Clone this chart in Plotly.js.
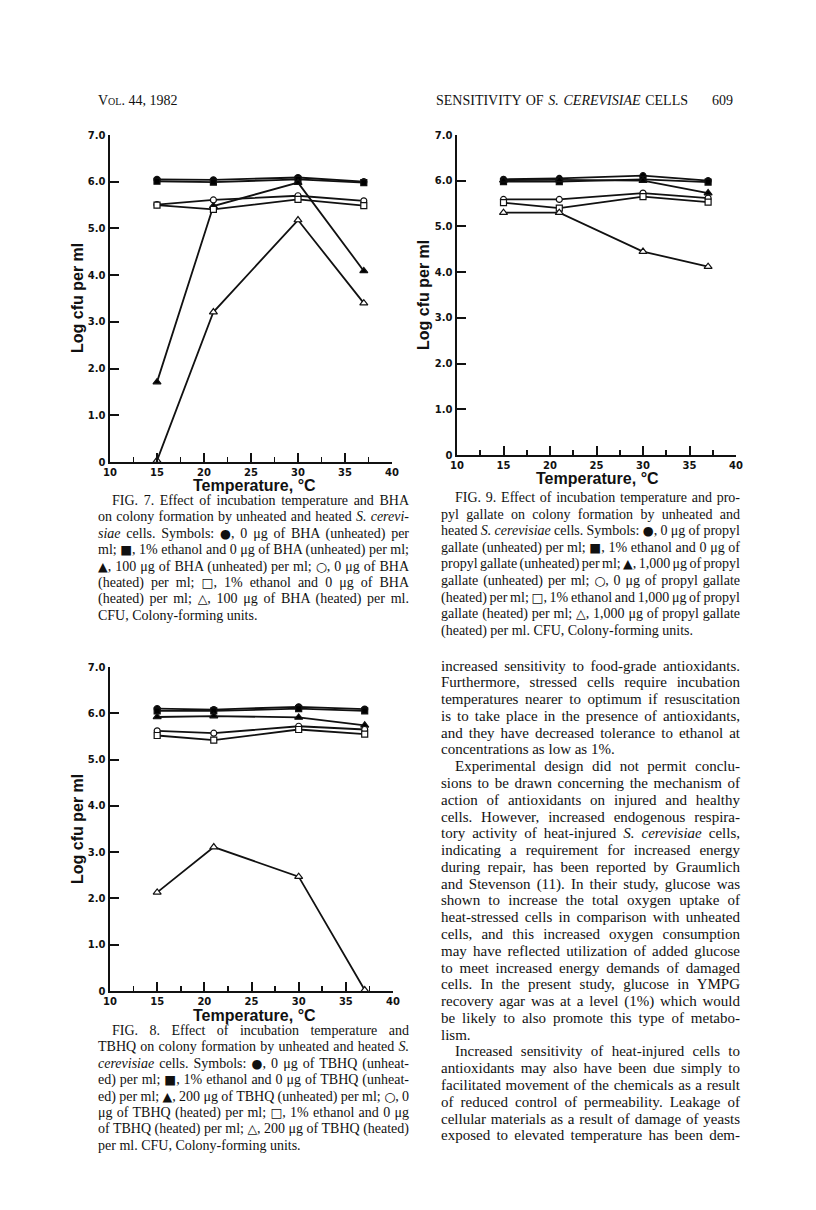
<!DOCTYPE html>
<html>
<head>
<meta charset="utf-8">
<script src="https://cdn.plot.ly/plotly-3.0.1.min.js"></script>
<style>
  html, body { margin:0; padding:0; background:#fff; }
  #page { position:relative; width:816px; height:1210px; background:#fff; overflow:hidden; }
  #plot { position:absolute; left:0; top:0; width:816px; height:1210px; }
  .ln { position:absolute; white-space:nowrap; font-family:'Liberation Serif','Times New Roman',serif; color:#111; }
  .sym { font-family:'DejaVu Sans'; font-size:0.9em; }
</style>
</head>
<body>
<div id="page"><div id="plot"></div></div>
<script>
// ---------------- DATA ----------------
const temps = [15, 21, 30, 37];
const tempTicks = [10, 15, 20, 25, 30, 35, 40];
const logTicks = [0, 1, 2, 3, 4, 5, 6, 7];
const logTickText = ["0", "1.0", "2.0", "3.0", "4.0", "5.0", "6.0", "7.0"];

// FIG. 7 (BHA)
const f7Unheated       = [6.05, 6.04, 6.09, 6.00];
const f7Ethanol        = [6.01, 5.99, 6.05, 5.98];
const f7Bha100         = [1.71, 5.48, 5.98, 4.09];
const f7Heated         = [5.51, 5.61, 5.70, 5.59];
const f7HeatedEthanol  = [5.50, 5.41, 5.62, 5.49];
const f7HeatedBha100   = [0.03, 3.21, 5.18, 3.40];

// FIG. 9 (propyl gallate)
const f9Unheated       = [6.03, 6.05, 6.11, 6.00];
const f9Ethanol        = [5.98, 5.98, 6.03, 5.97];
const f9Pg1000         = [6.01, 6.02, 6.00, 5.73];
const f9Heated         = [5.59, 5.59, 5.73, 5.62];
const f9HeatedEthanol  = [5.52, 5.40, 5.65, 5.53];
const f9HeatedPg1000   = [5.30, 5.30, 4.45, 4.12];

// FIG. 8 (TBHQ)
const f8Unheated       = [6.10, 6.08, 6.14, 6.09];
const f8Ethanol        = [6.05, 6.05, 6.10, 6.05];
const f8Tbhq200        = [5.92, 5.94, 5.91, 5.74];
const f8Heated         = [5.62, 5.57, 5.72, 5.65];
const f8HeatedEthanol  = [5.52, 5.42, 5.65, 5.55];
const f8HeatedTbhq200  = [2.13, 3.11, 2.47, 0.02];

const yTitle = "Log cfu per ml";
const xTitle = "Temperature, °C";

// ---------------- CHARTS ----------------
const W = 816, H = 1210;
const px = v => v / W;
const py = v => 1 - v / H;

const styles = [
  {symbol:'circle',      size:6, fill:'#000'},
  {symbol:'square',      size:6, fill:'#000'},
  {symbol:'triangle-up', size:7, fill:'#000'},
  {symbol:'circle',      size:6, fill:'#fff'},
  {symbol:'square',      size:6, fill:'#fff'},
  {symbol:'triangle-up', size:7, fill:'#fff'}
];

function series(ys, k, ax) {
  const s = styles[k];
  return {
    x: temps, y: ys, type:'scatter', mode:'lines+markers',
    xaxis:'x'+ax, yaxis:'y'+ax, cliponaxis:false, showlegend:false,
    line:{color:'#111', width:1.8},
    marker:{symbol:s.symbol, size:s.size, color:s.fill, line:{color:'#111', width:1.2}}
  };
}

const data = [];
[f7Unheated, f7Ethanol, f7Bha100, f7Heated, f7HeatedEthanol, f7HeatedBha100].forEach((ys,k)=>data.push(series(ys,k,'')));
[f9Unheated, f9Ethanol, f9Pg1000, f9Heated, f9HeatedEthanol, f9HeatedPg1000].forEach((ys,k)=>data.push(series(ys,k,'2')));
[f8Unheated, f8Ethanol, f8Tbhq200, f8Heated, f8HeatedEthanol, f8HeatedTbhq200].forEach((ys,k)=>data.push(series(ys,k,'3')));

const tickFont = {family:'DejaVu Sans', size:10, color:'#111', weight:'bold'};

function xAxis(x0, x1, anchor) {
  return {
    domain:[px(x0), px(x1)], range:[10, 40], anchor:anchor,
    tickvals: tempTicks, ticktext: tempTicks.map(String),
    ticks:'inside', ticklen:9, tickwidth:2, tickcolor:'#111',
    minor:{ticks:'inside', ticklen:5, tickwidth:1.6, tickcolor:'#111', dtick:2.5, tick0:10},
    showline:true, linecolor:'#111', linewidth:2,
    showgrid:false, zeroline:false, tickfont:tickFont, fixedrange:true
  };
}
function yAxis(y0, y1, anchor) {
  return {
    domain:[py(y0), py(y1)], range:[0, 7], anchor:anchor,
    tickvals: logTicks, ticktext: logTickText,
    ticks:'inside', ticklen:9, tickwidth:2, tickcolor:'#111',
    showline:true, linecolor:'#111', linewidth:2.5,
    showgrid:false, zeroline:false, tickfont:tickFont, fixedrange:true
  };
}

const titleFont = {family:'Liberation Sans', size:16, color:'#111', weight:'bold'};
function ann(text, x, y, angle) {
  return {text:text, x:px(x), y:py(y), xref:'paper', yref:'paper', showarrow:false,
          xanchor:'center', yanchor:'middle', textangle:angle||0, font:titleFont, borderpad:0};
}

const layout = {
  width:W, height:H, margin:{l:0,r:0,t:0,b:0},
  paper_bgcolor:'#fff', plot_bgcolor:'rgba(0,0,0,0)', showlegend:false,
  xaxis:  xAxis(110, 392, 'y'),  yaxis:  yAxis(462, 135, 'x'),
  xaxis2: xAxis(457, 736, 'y2'), yaxis2: yAxis(455, 135, 'x2'),
  xaxis3: xAxis(110, 393, 'y3'), yaxis3: yAxis(991, 667, 'x3'),
  annotations:[
    ann(yTitle, 77, 298, -90), ann(xTitle, 254, 485),
    ann(yTitle, 424, 295, -90), ann(xTitle, 597, 478),
    ann(yTitle, 77, 829, -90), ann(xTitle, 254, 1015)
  ]
};

Plotly.newPlot('plot', data, layout, {displayModeBar:false, staticPlot:true});

// ---------------- PAGE TEXT ----------------
const page = document.getElementById('page');
const SYM = /([●■▲○□△])/g;

function placeLine(html, left, cy, width, justify, size) {
  const d = document.createElement('div');
  d.className = 'ln';
  const lh = Math.round(size);
  d.style.left = left + 'px';
  d.style.top = (cy - lh / 2) + 'px';
  d.style.fontSize = size + 'px';
  d.style.lineHeight = lh + 'px';
  d.innerHTML = html.replace(SYM, '<span class="sym">$1</span>');
  page.appendChild(d);
  if (justify) {
    const w = d.getBoundingClientRect().width;
    const spaces = (d.textContent.match(/ /g) || []).length;
    if (spaces) d.style.wordSpacing = ((width - w) / spaces) + 'px';
  }
}

function block(lines, left, width, cy0, step, size, indents, lastLines) {
  lines.forEach((t, i) => {
    const ind = indents.includes(i) ? 14 : 0;
    placeLine(t, left + ind, cy0 + i * step, width - ind, !lastLines.includes(i), size);
  });
}

// header
placeLine('<span style="font-variant:small-caps">Vol.</span> 44, 1982', 98, 101, 0, false, 14);
placeLine('SENSITIVITY OF <i>S. CEREVISIAE</i> CELLS', 436, 101, 252, true, 14);
placeLine('609', 712, 101, 0, false, 14);

const cap7 = [
  "FIG. 7. Effect of incubation temperature and BHA",
  "on colony formation by unheated and heated <i>S. cerevi-</i>",
  "<i>siae</i> cells. Symbols: ●, 0 μg of BHA (unheated) per",
  "ml; ■, 1% ethanol and 0 μg of BHA (unheated) per ml;",
  "▲, 100 μg of BHA (unheated) per ml; ○, 0 μg of BHA",
  "(heated) per ml; □, 1% ethanol and 0 μg of BHA",
  "(heated) per ml; △, 100 μg of BHA (heated) per ml.",
  "CFU, Colony-forming units."
];
const cap9 = [
  "FIG. 9. Effect of incubation temperature and pro-",
  "pyl gallate on colony formation by unheated and",
  "heated <i>S. cerevisiae</i> cells. Symbols: ●, 0 μg of propyl",
  "gallate (unheated) per ml; ■, 1% ethanol and 0 μg of",
  "propyl gallate (unheated) per ml; ▲, 1,000 μg of propyl",
  "gallate (unheated) per ml; ○, 0 μg of propyl gallate",
  "(heated) per ml; □, 1% ethanol and 1,000 μg of propyl",
  "gallate (heated) per ml; △, 1,000 μg of propyl gallate",
  "(heated) per ml. CFU, Colony-forming units."
];
const cap8 = [
  "FIG. 8. Effect of incubation temperature and",
  "TBHQ on colony formation by unheated and heated <i>S.</i>",
  "<i>cerevisiae</i> cells. Symbols: ●, 0 μg of TBHQ (unheat-",
  "ed) per ml; ■, 1% ethanol and 0 μg of TBHQ (unheat-",
  "ed) per ml; ▲, 200 μg of TBHQ (unheated) per ml; ○, 0",
  "μg of TBHQ (heated) per ml; □, 1% ethanol and 0 μg",
  "of TBHQ (heated) per ml; △, 200 μg of TBHQ (heated)",
  "per ml. CFU, Colony-forming units."
];
const body = [
  "increased sensitivity to food-grade antioxidants.",
  "Furthermore, stressed cells require incubation",
  "temperatures nearer to optimum if resuscitation",
  "is to take place in the presence of antioxidants,",
  "and they have decreased tolerance to ethanol at",
  "concentrations as low as 1%.",
  "Experimental design did not permit conclu-",
  "sions to be drawn concerning the mechanism of",
  "action of antioxidants on injured and healthy",
  "cells. However, increased endogenous respira-",
  "tory activity of heat-injured <i>S. cerevisiae</i> cells,",
  "indicating a requirement for increased energy",
  "during repair, has been reported by Graumlich",
  "and Stevenson (11). In their study, glucose was",
  "shown to increase the total oxygen uptake of",
  "heat-stressed cells in comparison with unheated",
  "cells, and this increased oxygen consumption",
  "may have reflected utilization of added glucose",
  "to meet increased energy demands of damaged",
  "cells. In the present study, glucose in YMPG",
  "recovery agar was at a level (1%) which would",
  "be likely to also promote this type of metabo-",
  "lism.",
  "Increased sensitivity of heat-injured cells to",
  "antioxidants may also have been due simply to",
  "facilitated movement of the chemicals as a result",
  "of reduced control of permeability. Leakage of",
  "cellular materials as a result of damage of yeasts",
  "exposed to elevated temperature has been dem-"
];

block(cap7, 98, 311, 501, 16.4, 14, [0], [7]);
block(cap9, 441, 299, 498, 16.6, 14, [0], [8]);
block(cap8, 98, 311, 1031, 16.4, 14, [0], [7]);
block(body, 441, 299, 666, 16.78, 15, [6, 23], [5, 22]);
</script>
</body>
</html>
